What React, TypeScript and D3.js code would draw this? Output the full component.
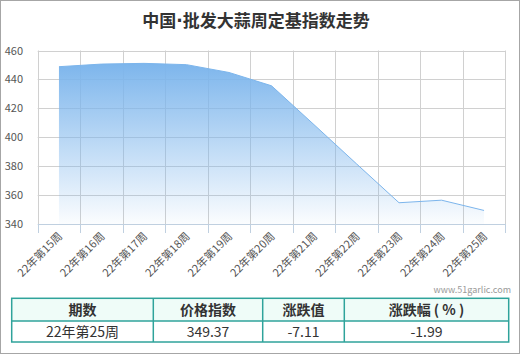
import React, { useEffect, useRef } from "react";
import * as d3 from "d3";

const weeks = [
  "22年第15周",
  "22年第16周",
  "22年第17周",
  "22年第18周",
  "22年第19周",
  "22年第20周",
  "22年第21周",
  "22年第22周",
  "22年第23周",
  "22年第24周",
  "22年第25周",
];
const indexValues = [448.8, 450.6, 451.1, 450.2, 444.8, 435.6, 408.7, 381.6, 354.7, 356.48, 349.37];
const yTicks = [340, 360, 380, 400, 420, 440, 460];
const tableHeaders = ["期数", "价格指数", "涨跌值", "涨跌幅 ( % )"];
const tableRow = ["22年第25周", "349.37", "-7.11", "-1.99"];

const FONT = "'Noto Sans CJK SC', 'Microsoft YaHei', sans-serif";

export default function App() {
  const svgRef = useRef<SVGSVGElement | null>(null);

  useEffect(() => {
    if (!svgRef.current) return;
    const svg = d3.select(svgRef.current);
    svg.selectAll("*").remove();

    const W = 521;
    const H = 354;
    const plot = { left: 37.7, right: 505.3, top: 50.5, bottom: 224 };

    svg.attr("width", W).attr("height", H).style("font-family", FONT);

    svg
      .append("rect")
      .attr("x", 0.5)
      .attr("y", 0.5)
      .attr("width", W - 2)
      .attr("height", H - 1)
      .attr("fill", "#fff")
      .attr("stroke", "#a6a6a6");

    // title, the middle dot drawn in a latin font so it stays narrow
    const title = svg
      .append("text")
      .attr("x", 256)
      .attr("y", 27)
      .attr("text-anchor", "middle")
      .attr("font-size", 17)
      .attr("font-weight", "bold")
      .attr("fill", "#333");
    title.append("tspan").text("中国");
    title.append("tspan").style("font-family", "'DejaVu Sans', sans-serif").text("·");
    title.append("tspan").text("批发大蒜周定基指数走势");

    const x = d3.scaleBand().domain(weeks).range([plot.left, plot.right]);
    const y = d3.scaleLinear().domain([340, 460]).range([plot.bottom, plot.top]);

    // gradient
    const defs = svg.append("defs");
    const grad = defs
      .append("linearGradient")
      .attr("id", "areaGrad")
      .attr("gradientUnits", "userSpaceOnUse")
      .attr("x1", 0)
      .attr("x2", 0)
      .attr("y1", y(452))
      .attr("y2", plot.bottom);
    grad.append("stop").attr("offset", 0).attr("stop-color", "#7cb5ec").attr("stop-opacity", 1);
    grad.append("stop").attr("offset", 1).attr("stop-color", "#7cb5ec").attr("stop-opacity", 0.03);

    // horizontal grid
    svg
      .append("g")
      .selectAll("line")
      .data(yTicks.filter((t) => t !== 340))
      .enter()
      .append("line")
      .attr("x1", plot.left)
      .attr("x2", plot.right)
      .attr("y1", (d) => Math.round(y(d)) + 0.5)
      .attr("y2", (d) => Math.round(y(d)) + 0.5)
      .attr("stroke", "#d0d0d0");

    // vertical grid at band edges
    const edges = weeks.map((w) => x(w) as number).concat([plot.right]);
    svg
      .append("g")
      .selectAll("line")
      .data(edges)
      .enter()
      .append("line")
      .attr("x1", (d) => Math.round(d) + 0.5)
      .attr("x2", (d) => Math.round(d) + 0.5)
      .attr("y1", plot.top)
      .attr("y2", plot.bottom)
      .attr("stroke", "#d0d0d0");

    // x ticks
    svg
      .append("g")
      .selectAll("line")
      .data(edges)
      .enter()
      .append("line")
      .attr("x1", (d) => Math.round(d) + 0.5)
      .attr("x2", (d) => Math.round(d) + 0.5)
      .attr("y1", plot.bottom)
      .attr("y2", plot.bottom + 9)
      .attr("stroke", "#c0d0e0");

    // area + line
    const cx = (i: number) => (x(weeks[i]) as number) + x.bandwidth() / 2;
    const area = d3
      .area<number>()
      .x((d, i) => cx(i))
      .y0(plot.bottom)
      .y1((d) => y(d));
    const line = d3
      .line<number>()
      .x((d, i) => cx(i))
      .y((d) => y(d));

    svg.append("path").datum(indexValues).attr("d", area).attr("fill", "url(#areaGrad)");
    svg
      .append("path")
      .datum(indexValues)
      .attr("d", line)
      .attr("fill", "none")
      .attr("stroke", "#7cb5ec")
      .attr("stroke-width", 1);

    // x axis line
    svg
      .append("line")
      .attr("x1", plot.left)
      .attr("x2", plot.right)
      .attr("y1", Math.round(plot.bottom) + 0.5)
      .attr("y2", Math.round(plot.bottom) + 0.5)
      .attr("stroke", "#c0d0e0");

    // y labels
    svg
      .append("g")
      .selectAll("text")
      .data(yTicks)
      .enter()
      .append("text")
      .attr("x", 23)
      .attr("y", (d) => y(d) + 4)
      .attr("text-anchor", "end")
      .attr("font-size", 11)
      .attr("fill", "#555")
      .text((d) => d);

    // x labels
    svg
      .append("g")
      .selectAll("text")
      .data(weeks)
      .enter()
      .append("text")
      .attr("transform", (d, i) => `translate(${cx(i) + 4},${plot.bottom + 13}) rotate(-45)`)
      .attr("text-anchor", "end")
      .attr("font-size", 11)
      .attr("fill", "#555")
      .text((d) => d);

    // watermark
    svg
      .append("text")
      .attr("x", 511)
      .attr("y", 293)
      .attr("text-anchor", "end")
      .attr("font-size", 9)
      .attr("fill", "#999")
      .text("www.51garlic.com");

    // table
    const cols = [11.7, 153.3, 262.7, 344.3, 508.7];
    const rows = [298.3, 321, 342];
    const table = svg.append("g");
    table
      .append("rect")
      .attr("x", cols[0])
      .attr("y", rows[0])
      .attr("width", cols[4] - cols[0])
      .attr("height", rows[1] - rows[0])
      .attr("fill", "#effcf8");
    table
      .append("rect")
      .attr("x", cols[0])
      .attr("y", rows[0])
      .attr("width", cols[4] - cols[0])
      .attr("height", rows[2] - rows[0])
      .attr("fill", "none")
      .attr("stroke", "#2fa39b")
      .attr("stroke-width", 1.5);
    table
      .append("line")
      .attr("x1", cols[0])
      .attr("x2", cols[4])
      .attr("y1", rows[1])
      .attr("y2", rows[1])
      .attr("stroke", "#2fa39b")
      .attr("stroke-width", 1.5);
    table
      .selectAll(".vsep")
      .data(cols.slice(1, 4))
      .enter()
      .append("line")
      .attr("x1", (d) => d)
      .attr("x2", (d) => d)
      .attr("y1", rows[0])
      .attr("y2", rows[2])
      .attr("stroke", "#2fa39b")
      .attr("stroke-width", 1.5);
    table
      .selectAll(".hd")
      .data(tableHeaders)
      .enter()
      .append("text")
      .attr("x", (d, i) => (cols[i] + cols[i + 1]) / 2)
      .attr("y", 315)
      .attr("text-anchor", "middle")
      .attr("font-size", 14)
      .attr("font-weight", "bold")
      .attr("fill", "#333")
      .attr("xml:space", "preserve")
      .text((d) => d);
    table
      .selectAll(".cell")
      .data(tableRow)
      .enter()
      .append("text")
      .attr("x", (d, i) => (cols[i] + cols[i + 1]) / 2)
      .attr("y", 336.5)
      .attr("text-anchor", "middle")
      .attr("font-size", 14)
      .attr("fill", "#333")
      .text((d) => d);
  }, []);

  return (
    <div style={{ position: "absolute", left: 0, top: 0 }}>
      <svg ref={svgRef} style={{ display: "block" }}></svg>
    </div>
  );
}
